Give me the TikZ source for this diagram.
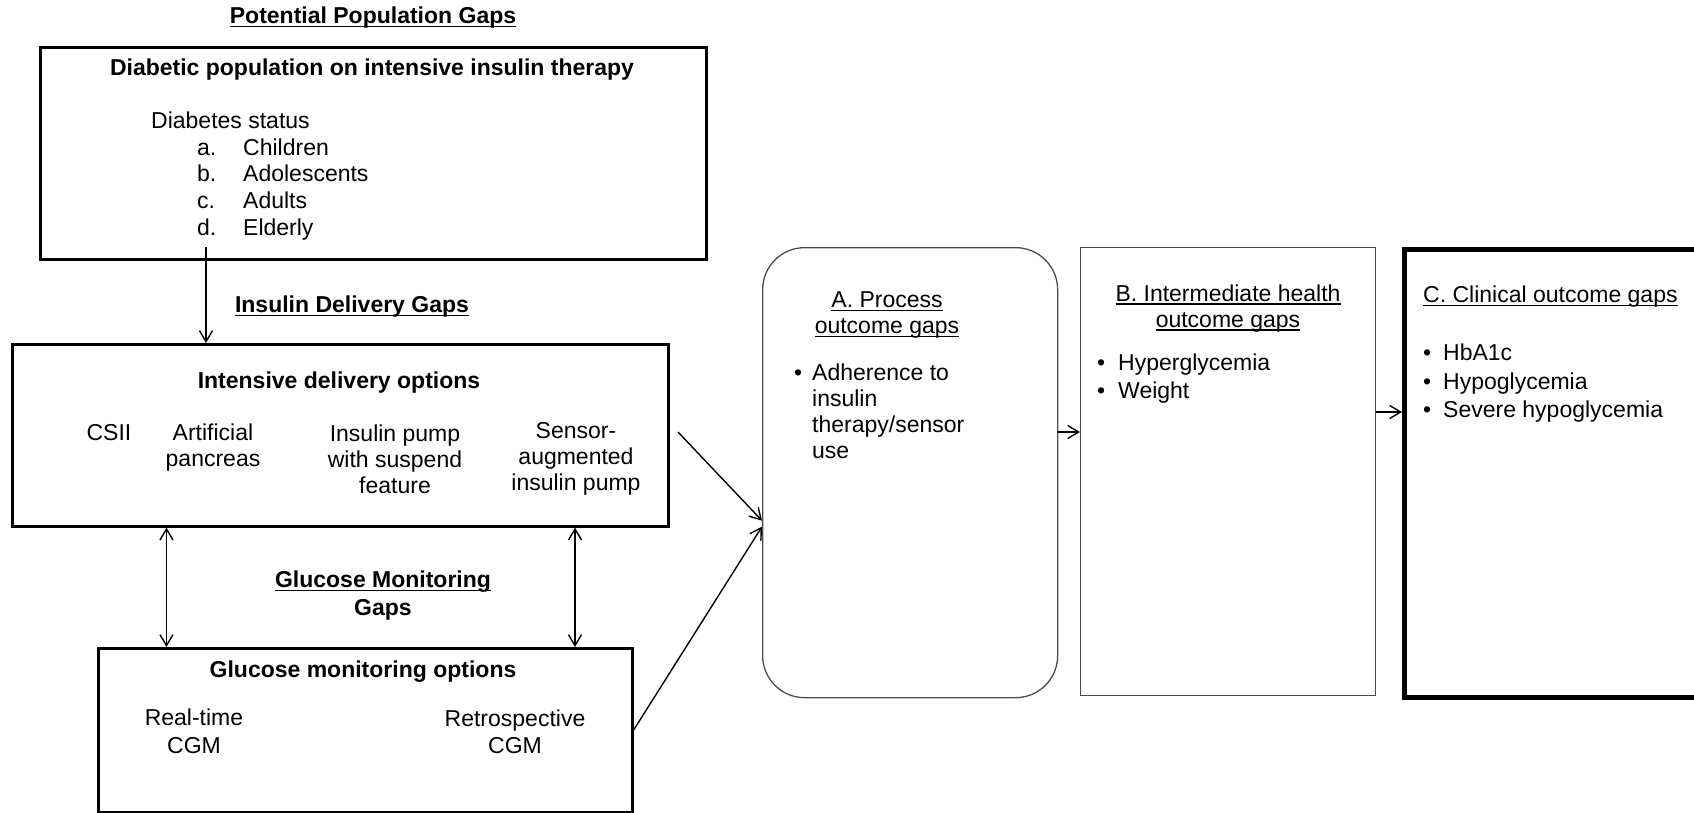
\documentclass[tikz,border=0pt]{standalone}
\usepackage{fontspec}
\setmainfont{Liberation Sans}
\usetikzlibrary{arrows.meta}
\newcommand\gapul[1]{\setbox0=\hbox{#1}\rlap{\rule[-3.5pt]{\wd0}{1.5pt}}\box0}

\begin{document}
\begin{tikzpicture}[x=1pt,y=-1pt,
  box/.style={draw,line width=2.6pt,inner sep=0pt,anchor=north west},
  thinbox/.style={draw=black!70,line width=1.3pt,inner sep=0pt,anchor=north west},
  lbl/.style={inner sep=0pt,font=\fontsize{23}{26}\selectfont,align=center},
  bold/.style={font=\fontsize{23}{26}\selectfont\bfseries},
  arr/.style={-{Straight Barb[length=11pt,width=13pt]},line width=1.4pt},
  dblarr/.style={{Straight Barb[length=11pt,width=13pt]}-{Straight Barb[length=11pt,width=13pt]},line width=1.4pt}]
\useasboundingbox (0,0) rectangle (1694,812);

% Population
\node[lbl,bold] (popgap) at (373,18) {\gapul{Potential Population Gaps}};
\node[box,minimum width=666pt,minimum height=212pt] (pop) at (39,46) {};
\node[lbl,bold] (poptitle) at (372,70) {Diabetic population on intensive insulin therapy};
\node[lbl,align=left,anchor=west,font=\fontsize{23}{26.7}\selectfont] (popstatus) at (151,176)
  {Diabetes status\\
   \hspace*{46pt}\makebox[46pt][l]{a.}Children\\
   \hspace*{46pt}\makebox[46pt][l]{b.}Adolescents\\
   \hspace*{46pt}\makebox[46pt][l]{c.}Adults\\
   \hspace*{46pt}\makebox[46pt][l]{d.}Elderly};

% Insulin delivery
\node[lbl,bold] (delivgap) at (352,307) {\gapul{Insulin Delivery Gaps}};
\node[box,minimum width=656pt,minimum height=182pt] (deliv) at (11,343) {};
\node[lbl,bold] (delivtitle) at (339,383) {Intensive delivery options};
\node[lbl] (csii) at (109,433) {CSII};
\node[lbl] (artpanc) at (213,447.5) {Artificial\\pancreas};
\node[lbl] (suspend) at (395,459) {Insulin pump\\with suspend\\feature};
\node[lbl] (sensor) at (576,459) {Sensor-\\augmented\\insulin pump};

\coordinate (popout) at (206,247);
\draw[arr] (popout) -- (popout |- deliv.north);

% Glucose monitoring
\node[lbl,font=\fontsize{23}{28}\selectfont\bfseries] (glucgap) at (383,596) {\gapul{Glucose Monitoring}\\Gaps};
\node[box,minimum width=534pt,minimum height=163.5pt] (gluc) at (97,647) {};
\node[lbl,bold] (gluctitle) at (363,672) {Glucose monitoring options};
\node[lbl,font=\fontsize{23}{28}\selectfont] (realtime) at (194,731) {Real-time\\CGM};
\node[lbl,font=\fontsize{23}{27}\selectfont] (retro) at (515,732) {Retrospective\\CGM};

\coordinate (colL) at (166.5,0);
\coordinate (colR) at (575,0);
\draw[dblarr] (deliv.south -| colL) -- (gluc.north -| colL);
\draw[dblarr] (deliv.south -| colR) -- (gluc.north -| colR);

% Outcome gaps
\node[thinbox,rounded corners=42pt,minimum width=295pt,minimum height=450pt] (procA) at (762,247) {};
\node[lbl] (procAtitle) at (887,315) {\gapul{A. Process}\\\gapul{outcome gaps}};
\node[lbl,align=left,anchor=west] (procAlist) at (812,411)
  {\llap{\textbullet\hspace{10pt}}Adherence to\\insulin\\therapy/sensor\\use};

\node[thinbox,minimum width=295pt,minimum height=448pt] (interB) at (1080,247) {};
\node[lbl] (interBtitle) at (1228,308.5) {\gapul{B. Intermediate health}\\\gapul{outcome gaps}};
\node[lbl,align=left,anchor=west,font=\fontsize{23}{28}\selectfont] (interBlist) at (1118,379)
  {\llap{\textbullet\hspace{13pt}}Hyperglycemia\\\llap{\textbullet\hspace{13pt}}Weight};

\node[box,line width=4.5pt,minimum width=330pt,minimum height=448pt] (clinC) at (1402,247) {};
\node[lbl,anchor=west] (clinCtitle) at (1423,297) {\gapul{C. Clinical outcome gaps}};
\node[lbl,align=left,anchor=west,font=\fontsize{23}{28.5}\selectfont] (clinClist) at (1443,383.5)
  {\llap{\textbullet\hspace{12pt}}HbA1c\\\llap{\textbullet\hspace{12pt}}Hypoglycemia\\\llap{\textbullet\hspace{12pt}}Severe hypoglycemia};

% connectors to outcomes
\coordinate (delivout) at (678,432);
\draw[arr] (delivout) -- ([yshift=-48pt]procA.west);
\draw[arr] (gluc.east) -- ([yshift=-54pt]procA.west);

\coordinate (rowAB) at (0,432);
\coordinate (rowBC) at (0,412);
\draw[arr] (procA.east |- rowAB) -- (interB.west |- rowAB);
\draw[arr] (interB.east |- rowBC) -- (clinC.west |- rowBC);

\end{tikzpicture}
\end{document}
